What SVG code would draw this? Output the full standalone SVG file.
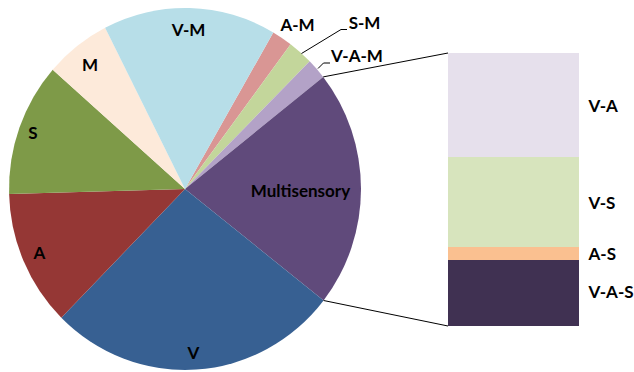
<svg xmlns="http://www.w3.org/2000/svg" width="634" height="372" viewBox="0 0 634 372">
<style>
.lbl{font-family:Lato,"Liberation Sans",sans-serif;font-weight:bold;font-size:17px;fill:#000;}
.mid{text-anchor:middle;}
.ln{fill:none;stroke:#000;stroke-width:1;}
</style>
<rect width="634" height="372" fill="#fff"/>
<g id="pie">
<g id="slice-AM"><path d="M185,189 L273.3,32.4 A176,181 0 0,1 290.6,44.2 Z" fill="#D99694"/></g>
<g id="slice-SM"><path d="M185,189 L290.6,44.2 A176,181 0 0,1 309.7,61.3 Z" fill="#C3D69B"/></g>
<g id="slice-VAM"><path d="M185,189 L309.7,61.3 A176,181 0 0,1 323.2,76.9 Z" fill="#B3A2C7"/></g>
<g id="slice-Multi"><path d="M185,189 L323.2,76.9 A176,181 0 0,1 323.6,300.5 Z" fill="#604A7B"/></g>
<g id="slice-V"><path d="M185,189 L323.6,300.5 A176,181 0 0,1 61.3,317.7 Z" fill="#376092"/></g>
<g id="slice-A"><path d="M185,189 L61.3,317.7 A176,181 0 0,1 9.1,194 Z" fill="#953735"/></g>
<g id="slice-S"><path d="M185,189 L9.1,194 A176,181 0 0,1 52.7,69.7 Z" fill="#7E9A48"/></g>
<g id="slice-M"><path d="M185,189 L52.7,69.7 A176,181 0 0,1 105.1,27.8 Z" fill="#FDEADA"/></g>
<g id="slice-VM"><path d="M185,189 L105.1,27.8 A176,181 0 0,1 273.3,32.4 Z" fill="#B7DEE8"/></g>
</g>
<g id="bar">
<g id="bar-VA"><rect x="448" y="53" width="131" height="104" fill="#E6E0EC"/></g>
<g id="bar-VS"><rect x="448" y="157" width="131" height="90" fill="#D7E4BD"/></g>
<g id="bar-AS"><rect x="448" y="247" width="131" height="13" fill="#FAC090"/></g>
<g id="bar-VAS"><rect x="448" y="260" width="131" height="66" fill="#403152"/></g>
</g>
<g id="connectors">
<path class="ln" d="M323.2,76.9 L448,53"/>
<path class="ln" d="M323.6,300.5 L448,326"/>
<path class="ln" d="M301.5,53.5 L341,29.5 L347,29.5"/>
<path class="ln" d="M318,68.5 L323.5,63 L330,63"/>
</g>
<g id="labels">
<text class="lbl mid" x="188.5" y="36">V-M</text>
<text class="lbl mid" x="90" y="71">M</text>
<text class="lbl mid" x="33" y="139">S</text>
<text class="lbl mid" x="39.5" y="259">A</text>
<text class="lbl mid" x="193.5" y="358.5">V</text>
<text class="lbl mid" x="300.5" y="197">Multisensory</text>
<text class="lbl mid" x="297.5" y="30.5">A-M</text>
<text class="lbl mid" x="364.5" y="28.5">S-M</text>
<text class="lbl mid" x="357" y="62">V-A-M</text>
<text class="lbl" x="588.5" y="112">V-A</text>
<text class="lbl" x="588.5" y="208.5">V-S</text>
<text class="lbl" x="588.5" y="260">A-S</text>
<text class="lbl" x="588.5" y="298">V-A-S</text>
</g>
</svg>
